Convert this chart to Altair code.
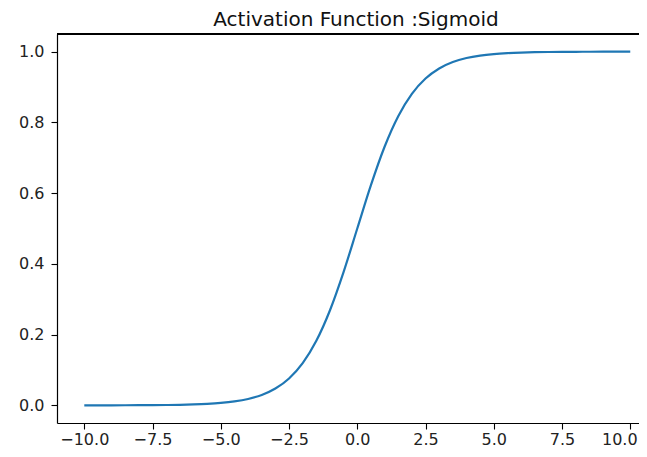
import altair as alt
import pandas as pd

x_vals = [-10, -9.5, -9, -8.5, -8, -7.5, -7, -6.5, -6, -5.5, -5, -4.5, -4, -3.5, -3, -2.5,
          -2, -1.5, -1, -0.5, 0, 0.5, 1, 1.5, 2, 2.5, 3, 3.5, 4, 4.5, 5, 5.5, 6, 6.5, 7,
          7.5, 8, 8.5, 9, 9.5, 10]
y_vals = [0.00005, 0.00007, 0.00012, 0.0002, 0.00034, 0.00055, 0.0009, 0.0015, 0.0025,
          0.0041, 0.0067, 0.011, 0.018, 0.0293, 0.0474, 0.0759, 0.1192, 0.1824, 0.2689,
          0.3775, 0.5, 0.6225, 0.7311, 0.8176, 0.8808, 0.9241, 0.9526, 0.9707, 0.982,
          0.989, 0.9933, 0.9959, 0.9975, 0.9985, 0.9991, 0.9994, 0.9997, 0.9998, 0.9999,
          0.9999, 1.0]
x_ticks = [-10, -7.5, -5, -2.5, 0, 2.5, 5, 7.5, 10]
y_ticks = [0.0, 0.2, 0.4, 0.6, 0.8, 1.0]
title_text = "Activation Function :Sigmoid"

df = pd.DataFrame({"x": x_vals, "y": y_vals})

FONT = "DejaVu Sans"
W = 582

line = alt.Chart(df).mark_line(color="#1f77b4", strokeWidth=2.2, interpolate="monotone").encode(
    x=alt.X("x:Q", scale=alt.Scale(domain=[-11, 10.32], nice=False, zero=False),
            axis=alt.Axis(values=x_ticks, format=".1f", title=None, grid=False,
                          labelFont=FONT, labelFontSize=16, labelColor="#222222",
                          tickColor="#000000", tickSize=6, tickWidth=1.1,
                          domainColor="#000000", domainWidth=1.2, labelPadding=2,
                          labelFlush=False, labelOverlap=False,
                          labelOffset={"condition": {"test": "datum.value == 10", "value": -11},
                                       "value": 0})),
    y=alt.Y("y:Q", scale=alt.Scale(domain=[-0.05, 1.05], nice=False, zero=False),
            axis=alt.Axis(values=y_ticks, format=".1f", title=None, grid=False,
                          labelFont=FONT, labelFontSize=16, labelColor="#222222",
                          tickColor="#000000", tickSize=6, tickWidth=1.1,
                          domainColor="#000000", domainWidth=1.2, labelPadding=7,
                          labelFlush=False, labelOverlap=False)),
)

top_spine = alt.Chart(df).mark_rule(color="#000000", strokeWidth=1.2).encode(
    x=alt.value(0), x2=alt.value(W), y=alt.value(0)
)

chart = alt.layer(line, top_spine).properties(
    width=W,
    height=389,
    title=alt.TitleParams(title_text, font=FONT, fontSize=20, fontWeight="normal",
                          color="#111111", offset=3, anchor="middle", dx=8),
    autosize=alt.AutoSizeParams(type="none"),
    padding={"left": 49, "top": 26, "right": 0, "bottom": 25},
).configure_view(stroke=None)

chart.save("out.html", embed_options={"renderer": "svg", "actions": False})
